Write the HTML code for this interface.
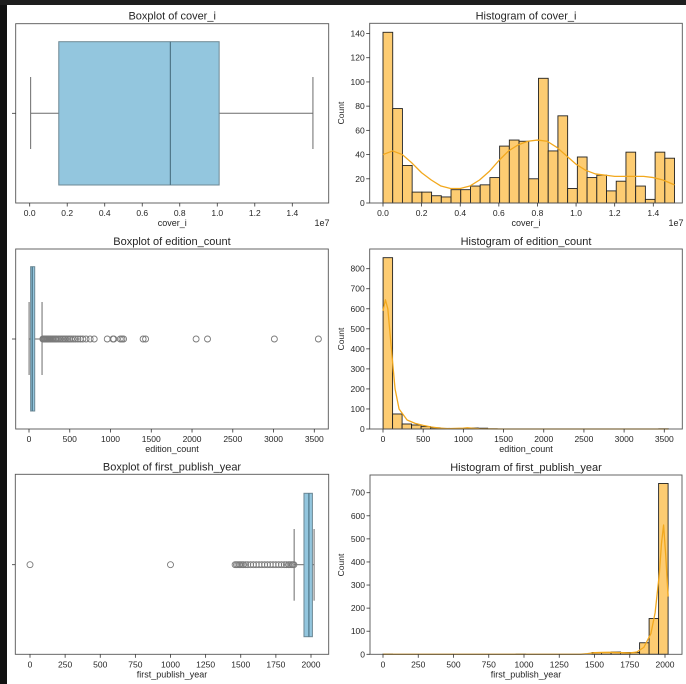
<!DOCTYPE html>
<html><head><meta charset="utf-8"><style>
body{margin:0;background:#fff;width:686px;height:684px;overflow:hidden}
svg{display:block;font-family:"Liberation Sans","DejaVu Sans",sans-serif}
</style></head><body>
<svg id="fig" width="686" height="684">
<rect x="0" y="0" width="686" height="684" fill="#fff"/>
<rect x="0" y="0" width="7" height="684" fill="#111"/>
<rect x="0" y="0" width="686" height="5" fill="#1e1e1e"/>
</svg>
<script>
// ---- data ----
const coverBox = [0.005, 0.155, 0.75, 1.01, 1.51]; // 1e7
const coverHistCounts = [141,78,31,9,9,6,5,11,11,14,15,21,47,52,51,20,103,43,72,12,38,21,23,10,18,42,14,3,42,37];
const coverKdeX = [0,0.05,0.1,0.15,0.2,0.25,0.3,0.35,0.4,0.45,0.5,0.55,0.6,0.65,0.7,0.75,0.8,0.85,0.9,0.95,1.0,1.05,1.1,1.15,1.2,1.25,1.3,1.35,1.4,1.45,1.51];
const coverKdeY = [40,43,40,33,25,19,14,12,12,14,19,26,35,43,48,51,52,51,46,39,32,27,24,23,22,22,22,22,21,19,15];
const edBox = [1, 20, 40, 70, 160];
const edOutliers = [170,180,190,200,210,220,230,240,250,265,280,295,310,325,340,360,380,400,420,440,460,480,500,520,545,570,600,630,660,700,750,800,960,1030,1040,1120,1140,1160,1400,1430,2050,2190,3010,3550];
const edHistCounts = [855,75,25,20,12,6,3,2,1,5,4,1,0,0,0,0,0,0,0,0,0,0,0,0,0,0,0,0,0,1];
const edKdeX = [0,30,60,100,150,200,300,400,500,600,700,800,1000,1050,1100,1200,1500,2000,2500,3000,3550];
const edKdeY = [590,645,600,420,200,100,45,28,18,10,5,2,4,6,4,1,0,0,0,0,0];
const yrBox = [1880, 1950, 1985, 2010, 2022];
const yrOutliers = [0,1000,1460,1470,1480,1490,1500,1510,1520,1535,1550,1570,1590,1610,1630,1650,1670,1690,1710,1730,1750,1770,1790,1810,1825,1840,1850,1860,1870,1878];
const yrHistCounts = [1,0,0,0,0,0,0,0,0,0,0,0,0,0,1,0,0,0,0,0,0,0,8,8,10,8,8,50,155,740];
const yrKdeX = [0,500,1000,1400,1450,1500,1550,1600,1650,1700,1750,1800,1850,1900,1930,1960,1975,1990,2005,2022];
const yrKdeY = [0,0,0,0,3,7,8,9,8,7,6,10,30,90,180,350,480,560,430,250];

// ---- helpers ----
const NS="http://www.w3.org/2000/svg";
const svg=document.getElementById('fig');
function el(tag,attrs,parent){const e=document.createElementNS(NS,tag);for(const k in attrs)e.setAttribute(k,attrs[k]);(parent||svg).appendChild(e);return e;}
function txt(s,x,y,size,anchor,parent,extra){const t=el('text',Object.assign({x:x,y:y,'font-size':size,'text-anchor':anchor||'middle',fill:'#262626'},extra||{}),parent);t.textContent=s;return t;}

function axes(name,x0,y0,x1,y1,title,xlabel){
  const g=el('g',{});
  
  
  const t=txt(title,(x0+x1)/2,y0-4,11,'middle',g);
  
  
  const xl=txt(xlabel,(x0+x1)/2,y1+23,9,'middle',g);
  
  
  return g;
}
function frame(g,x0,y0,x1,y1){el('rect',{x:x0,y:y0,width:x1-x0,height:y1-y0,fill:'none',stroke:'#555','stroke-width':0.9},g);}
function xticks(g,ticks,labels,sx,y1){
  ticks.forEach((v,i)=>{const x=sx(v);el('line',{x1:x,x2:x,y1:y1,y2:y1+3.5,stroke:'#333','stroke-width':0.8},g);
    const t=txt(labels[i],x,y1+13,8.5,'middle',g);});
}
function yticks(g,ticks,sy,x0){
  ticks.forEach(v=>{const y=sy(v);el('line',{x1:x0-3.5,x2:x0,y1:y,y2:y,stroke:'#333','stroke-width':0.8},g);
    const t=txt(String(v),x0-5,y+3,8.5,'end',g);});
}
function ylabel(g,x,y){const t=txt('Count',x,y,8.5,'middle',g,{transform:`rotate(-90 ${x} ${y})`});}

function boxplot(g,stats,outliers,sx,yTop,yBot,capTop,capBot,cy){
  const [lo,q1,med,q3,hi]=stats;
  el('line',{x1:sx(lo),x2:sx(q1),y1:cy,y2:cy,stroke:'#6b6b6b','stroke-width':1},g);
  el('line',{x1:sx(q3),x2:sx(hi),y1:cy,y2:cy,stroke:'#6b6b6b','stroke-width':1},g);
  el('line',{x1:sx(lo),x2:sx(lo),y1:capTop,y2:capBot,stroke:'#6b6b6b','stroke-width':1},g);
  el('line',{x1:sx(hi),x2:sx(hi),y1:capTop,y2:capBot,stroke:'#6b6b6b','stroke-width':1},g);
  const b=el('rect',{x:sx(q1),y:yTop,width:sx(q3)-sx(q1),height:yBot-yTop,fill:'#93c6de',stroke:'#6d8894','stroke-width':1},g);
  
  
  el('line',{x1:sx(med),x2:sx(med),y1:yTop,y2:yBot,stroke:'#4f7688','stroke-width':1.2},g);
  outliers.forEach(v=>{const c=el('circle',{cx:sx(v),cy:cy,r:3,fill:'none',stroke:'#7a7a7a','stroke-width':0.9},g);
    
    });
}
function hist(g,counts,xmin,xmax,sx,sy){
  const w=(xmax-xmin)/counts.length;
  counts.forEach((c,i)=>{if(c<=0)return;const x=sx(xmin+i*w),x2=sx(xmin+(i+1)*w);
    const r=el('rect',{x:x,y:sy(c),width:x2-x,height:sy(0)-sy(c),fill:'#fdc96a',stroke:'#222','stroke-width':0.9,'fill-opacity':0.95},g);
    
    });
}
function kde(g,xs,ys,sx,sy){
  const p=el('polyline',{points:xs.map((x,i)=>sx(x)+','+sy(ys[i])).join(' '),fill:'none',stroke:'#f2a81d','stroke-width':1.3,'stroke-linejoin':'round'},g);
  
  
}
const lin=(d0,d1,r0,r1)=>v=>r0+(v-d0)*(r1-r0)/(d1-d0);

// ---- cover_i boxplot ----
{const g=axes('boxplot-cover-i',15.7,23.7,328.7,203,'Boxplot of cover_i','cover_i');
 const sx=lin(0,1.4,29.7,292.3);
 boxplot(g,coverBox,[],sx,41.7,185,77,149,113.3);
 frame(g,15.7,23.7,328.7,203);
 el('line',{x1:12,x2:15.7,y1:113.3,y2:113.3,stroke:'#333','stroke-width':0.8},g);
 xticks(g,[0,0.2,0.4,0.6,0.8,1.0,1.2,1.4],['0.0','0.2','0.4','0.6','0.8','1.0','1.2','1.4'],sx,203);
 const e=txt('1e7',322,226,9,'middle',g);}
// ---- cover_i histogram ----
{const g=axes('histogram-cover-i',369.7,23.3,682.3,203,'Histogram of cover_i','cover_i');
 const sx=lin(0,1.4,383,653.3), sy=lin(0,140,203,33.5);
 hist(g,coverHistCounts,0,1.51,sx,sy); kde(g,coverKdeX,coverKdeY,sx,sy);
 frame(g,369.7,23.3,682.3,203);
 xticks(g,[0,0.2,0.4,0.6,0.8,1.0,1.2,1.4],['0.0','0.2','0.4','0.6','0.8','1.0','1.2','1.4'],sx,203);
 yticks(g,[0,20,40,60,80,100,120,140],sy,369.7); ylabel(g,344,113);
 const e=txt('1e7',676,226,9,'middle',g);}
// ---- edition_count boxplot ----
{const g=axes('boxplot-edition-count',15.7,249,328.3,429,'Boxplot of edition_count','edition_count');
 const sx=lin(0,3500,29,314.3);
 boxplot(g,edBox,edOutliers,sx,266.7,411,302,375,339);
 frame(g,15.7,249,328.3,429);
 el('line',{x1:12,x2:15.7,y1:339,y2:339,stroke:'#333','stroke-width':0.8},g);
 xticks(g,[0,500,1000,1500,2000,2500,3000,3500],['0','500','1000','1500','2000','2500','3000','3500'],sx,429);}
// ---- edition_count histogram ----
{const g=axes('histogram-edition-count',369.7,249,682.3,429,'Histogram of edition_count','edition_count');
 const sx=lin(0,3500,383,664.3), sy=lin(0,800,429,268.7);
 hist(g,edHistCounts,1,3550,sx,sy); kde(g,edKdeX,edKdeY,sx,sy);
 frame(g,369.7,249,682.3,429);
 xticks(g,[0,500,1000,1500,2000,2500,3000,3500],['0','500','1000','1500','2000','2500','3000','3500'],sx,429);
 yticks(g,[0,100,200,300,400,500,600,700,800],sy,369.7); ylabel(g,344,339);}
// ---- first_publish_year boxplot ----
{const g=axes('boxplot-first-publish-year',15.3,474.3,328.7,654.3,'Boxplot of first_publish_year','first_publish_year');
 const sx=lin(0,2000,30,311);
 boxplot(g,yrBox,yrOutliers,sx,493.3,636.7,529,600.7,564.7);
 frame(g,15.3,474.3,328.7,654.3);
 el('line',{x1:12,x2:15.3,y1:564.7,y2:564.7,stroke:'#333','stroke-width':0.8},g);
 xticks(g,[0,250,500,750,1000,1250,1500,1750,2000],['0','250','500','750','1000','1250','1500','1750','2000'],sx,654.3);}
// ---- first_publish_year histogram ----
{const g=axes('histogram-first-publish-year',370,475,682,654.3,'Histogram of first_publish_year','first_publish_year');
 const sx=lin(0,2000,383,665), sy=lin(0,700,654.3,492.7);
 hist(g,yrHistCounts,0,2022,sx,sy); kde(g,yrKdeX,yrKdeY,sx,sy);
 frame(g,370,475,682,654.3);
 xticks(g,[0,250,500,750,1000,1250,1500,1750,2000],['0','250','500','750','1000','1250','1500','1750','2000'],sx,654.3);
 yticks(g,[0,100,200,300,400,500,600,700],sy,370); ylabel(g,344,565);}
</script>
</body></html>
